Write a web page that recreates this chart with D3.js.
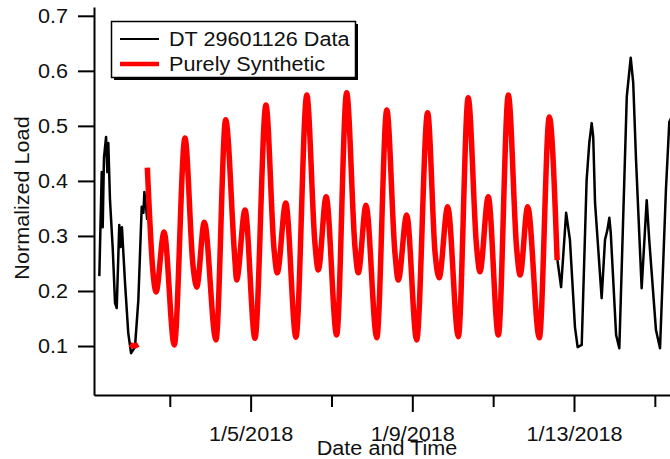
<!DOCTYPE html>
<html>
<head>
<meta charset="utf-8">
<script src="https://cdn.jsdelivr.net/npm/d3@7"></script>
<style>
  html, body { margin: 0; padding: 0; background: #fff; }
  svg { display: block; }
  text { font-family: "Liberation Sans", Arial, Helvetica, sans-serif; fill: #111; }
</style>
</head>
<body>
<svg id="chart" width="670" height="459"></svg>
<script>
// Measured meter data before the synthetic window
const dataBeforeTimes = [
  "2018-01-01 06:10", "2018-01-01 07:35", "2018-01-01 08:10", "2018-01-01 08:55",
  "2018-01-01 10:10", "2018-01-01 10:55", "2018-01-01 11:30", "2018-01-01 12:30",
  "2018-01-01 14:05", "2018-01-01 15:30", "2018-01-01 16:30", "2018-01-01 18:00",
  "2018-01-01 18:50", "2018-01-01 19:35", "2018-01-01 21:25", "2018-01-01 23:20",
  "2018-01-02 01:00", "2018-01-02 03:20", "2018-01-02 05:20", "2018-01-02 07:20",
  "2018-01-02 08:20", "2018-01-02 08:55", "2018-01-02 09:55", "2018-01-02 10:35"
];
const dataBeforeValues = [
  0.227, 0.416, 0.316, 0.442, 0.480, 0.416, 0.469, 0.365,
  0.280, 0.178, 0.169, 0.320, 0.280, 0.316, 0.215, 0.124,
  0.087, 0.098, 0.184, 0.353, 0.342, 0.380, 0.353, 0.329
];

// Measured meter data after the synthetic window
const dataAfterTimes = [
  "2018-01-12 14:10", "2018-01-12 16:20", "2018-01-12 19:20", "2018-01-12 21:35",
  "2018-01-13 00:35", "2018-01-13 02:10", "2018-01-13 04:35", "2018-01-13 07:30",
  "2018-01-13 09:05", "2018-01-13 10:30", "2018-01-13 11:25", "2018-01-13 12:30",
  "2018-01-13 16:25", "2018-01-13 18:25", "2018-01-13 19:50", "2018-01-13 21:00",
  "2018-01-13 21:50", "2018-01-14 01:00", "2018-01-14 02:55", "2018-01-14 07:20",
  "2018-01-14 09:40", "2018-01-14 11:10", "2018-01-14 12:50", "2018-01-14 16:10",
  "2018-01-14 19:10", "2018-01-14 20:40", "2018-01-15 00:40", "2018-01-15 03:05",
  "2018-01-15 06:35", "2018-01-15 08:35", "2018-01-15 10:30"
];
const dataAfterValues = [
  0.256, 0.207, 0.342, 0.293, 0.134, 0.098, 0.102, 0.402,
  0.469, 0.505, 0.480, 0.360, 0.187, 0.293, 0.311, 0.333,
  0.305, 0.120, 0.096, 0.553, 0.624, 0.578, 0.438, 0.205,
  0.365, 0.293, 0.129, 0.096, 0.384, 0.507, 0.520
];

// Purely synthetic profile (null marks a break in the trace)
const synthTimes = [
  "2018-01-02 00:30", "2018-01-02 02:45", "2018-01-02 05:15", "2018-01-02 07:00",
  "2018-01-02 10:40", "2018-01-02 14:00", "2018-01-02 15:50", "2018-01-02 20:35",
  "2018-01-03 02:40", "2018-01-03 09:00", "2018-01-03 13:45", "2018-01-03 16:00", "2018-01-03 20:30",
  "2018-01-04 03:25", "2018-01-04 09:10", "2018-01-04 14:40", "2018-01-04 15:40", "2018-01-04 20:40",
  "2018-01-05 02:35", "2018-01-05 09:05", "2018-01-05 13:55", "2018-01-05 15:50", "2018-01-05 20:50",
  "2018-01-06 02:55", "2018-01-06 09:20", "2018-01-06 14:10", "2018-01-06 16:10", "2018-01-06 20:50",
  "2018-01-07 03:05", "2018-01-07 09:00", "2018-01-07 14:00", "2018-01-07 15:55", "2018-01-07 20:30",
  "2018-01-08 02:55", "2018-01-08 08:50", "2018-01-08 13:40", "2018-01-08 15:40", "2018-01-08 20:40",
  "2018-01-09 02:35", "2018-01-09 09:05", "2018-01-09 13:30", "2018-01-09 15:55", "2018-01-09 21:00",
  "2018-01-10 03:20", "2018-01-10 09:10", "2018-01-10 14:10", "2018-01-10 16:10", "2018-01-10 21:05",
  "2018-01-11 03:05", "2018-01-11 09:00", "2018-01-11 14:00", "2018-01-11 16:00", "2018-01-11 20:30",
  "2018-01-12 03:25", "2018-01-12 09:20", "2018-01-12 14:00"
];
const synthValues = [
  0.103, 0.100, 0.103, null,
  0.424, 0.235, 0.198, 0.307,
  0.102, 0.478, 0.247, 0.207, 0.325,
  0.111, 0.511, 0.256, 0.220, 0.347,
  0.114, 0.538, 0.275, 0.233, 0.360,
  0.116, 0.556, 0.287, 0.238, 0.371,
  0.120, 0.560, 0.278, 0.233, 0.356,
  0.115, 0.529, 0.270, 0.220, 0.338,
  0.111, 0.524, 0.270, 0.224, 0.353,
  0.117, 0.551, 0.280, 0.235, 0.371,
  0.120, 0.556, 0.275, 0.229, 0.353,
  0.115, 0.516, 0.256
];

// Axis ticks
const yTickValues = [0.1, 0.2, 0.3, 0.4, 0.5, 0.6, 0.7];
const xMajorTicks = ["2018-01-05", "2018-01-09", "2018-01-13"];
const xMinorTicks = ["2018-01-03", "2018-01-07", "2018-01-11", "2018-01-15"];
const xTickLabels = ["1/5/2018", "1/9/2018", "1/13/2018"];

const seriesNames = ["DT 29601126 Data", "Purely Synthetic"];
const seriesColors = ["#000000", "#ff0000"];

const parseTime = d3.timeParse("%Y-%m-%d %H:%M");
const parseDay = d3.timeParse("%Y-%m-%d");

const toPoints = (times, values) => times.map((t, i) => ({ t: parseTime(t), v: values[i] }));
const before = toPoints(dataBeforeTimes, dataBeforeValues);
const after = toPoints(dataAfterTimes, dataAfterValues);
const synth = toPoints(synthTimes, synthValues);

const svg = d3.select("#chart");
const plotLeft = 94, plotRight = 670, plotTop = 7, plotBottom = 395;
const FONT_SIZE = 20;
const TEXT_STRETCH = 1.08;   // slightly wide lettering

const x = d3.scaleTime()
  .domain([parseTime("2018-01-01 03:00"), parseTime("2018-01-15 09:00")])
  .range([plotLeft, plotRight]);
const y = d3.scaleLinear()
  .domain([0.011, 0.716])
  .range([plotBottom, plotTop]);

svg.append("defs").append("clipPath").attr("id", "plotClip")
  .append("rect").attr("x", plotLeft).attr("y", 0)
  .attr("width", plotRight - plotLeft + 10).attr("height", plotBottom);

// Traces
const plot = svg.append("g").attr("clip-path", "url(#plotClip)");

const rawLine = d3.line()
  .x(d => x(d.t)).y(d => y(d.v))
  .curve(d3.curveLinear);

const smoothLine = d3.line()
  .defined(d => d.v !== null)
  .x(d => x(d.t)).y(d => y(d.v))
  .curve(d3.curveMonotoneX);

[before, after].forEach(seg => {
  plot.append("path").datum(seg)
    .attr("fill", "none").attr("stroke", seriesColors[0])
    .attr("stroke-width", 2.5).attr("stroke-linejoin", "round")
    .attr("d", rawLine);
});

plot.append("path").datum(synth)
  .attr("fill", "none").attr("stroke", seriesColors[1])
  .attr("stroke-width", 5.5).attr("stroke-linejoin", "round").attr("stroke-linecap", "butt")
  .attr("d", smoothLine);

// Y axis
const yAxis = svg.append("g").attr("transform", `translate(${plotLeft},0)`)
  .call(d3.axisLeft(y).tickValues(yTickValues).tickSize(16).tickSizeOuter(0).tickPadding(10)
    .tickFormat(d3.format(".1f")));
yAxis.select(".domain").attr("stroke", "#000").attr("stroke-width", 2);
yAxis.selectAll(".tick line").attr("stroke", "#000").attr("stroke-width", 2);
yAxis.selectAll(".tick text").attr("font-size", FONT_SIZE).attr("fill", "#222")
  .attr("font-family", "'Liberation Sans', Arial, sans-serif");

// X axis: minor ticks
const xMinor = svg.append("g").attr("transform", `translate(0,${plotBottom})`)
  .call(d3.axisBottom(x).tickValues(xMinorTicks.map(parseDay)).tickSize(12).tickSizeOuter(0)
    .tickFormat(""));
xMinor.select(".domain").attr("stroke", "#000").attr("stroke-width", 2);
xMinor.selectAll(".tick line").attr("stroke", "#000").attr("stroke-width", 2);

// X axis: labelled ticks
const xMajor = svg.append("g").attr("transform", `translate(0,${plotBottom})`)
  .call(d3.axisBottom(x).tickValues(xMajorTicks.map(parseDay)).tickSize(17).tickSizeOuter(0)
    .tickPadding(15).tickFormat((d, i) => xTickLabels[i]));
xMajor.select(".domain").remove();
xMajor.selectAll(".tick line").attr("stroke", "#000").attr("stroke-width", 2);
xMajor.selectAll(".tick text").attr("font-size", FONT_SIZE).attr("fill", "#222")
  .attr("font-family", "'Liberation Sans', Arial, sans-serif");

// Axis titles
svg.append("text")
  .attr("x", 387).attr("y", 455)
  .attr("text-anchor", "middle").attr("font-size", FONT_SIZE).attr("fill", "#222")
  .text("Date and Time");

svg.append("text")
  .attr("transform", "translate(29,198) rotate(-90)")
  .attr("text-anchor", "middle").attr("font-size", FONT_SIZE).attr("fill", "#222")
  .text("Normalized Load");

// Legend
const legend = svg.append("g");
legend.append("rect")
  .attr("x", 114).attr("y", 24).attr("width", 244).attr("height", 56)
  .attr("fill", "#000");
legend.append("rect")
  .attr("x", 111.5).attr("y", 21.5).attr("width", 244).attr("height", 56)
  .attr("fill", "#fff").attr("stroke", "#000").attr("stroke-width", 1.5);

const legendWidths = [2, 4.5];
seriesNames.forEach((name, i) => {
  const ly = 39 + i * 25;
  legend.append("line")
    .attr("x1", 120).attr("x2", 159).attr("y1", ly).attr("y2", ly)
    .attr("stroke", seriesColors[i]).attr("stroke-width", legendWidths[i]);
  legend.append("text")
    .attr("x", 169).attr("y", ly + 6.5)
    .attr("font-size", FONT_SIZE).attr("fill", "#222")
    .text(name);
});

// Widen all lettering a little along its baseline
svg.selectAll("text").each(function () {
  const len = this.getComputedTextLength();
  if (len > 0) {
    d3.select(this)
      .attr("textLength", (len * TEXT_STRETCH).toFixed(1))
      .attr("lengthAdjust", "spacingAndGlyphs");
  }
});
</script>
</body>
</html>
